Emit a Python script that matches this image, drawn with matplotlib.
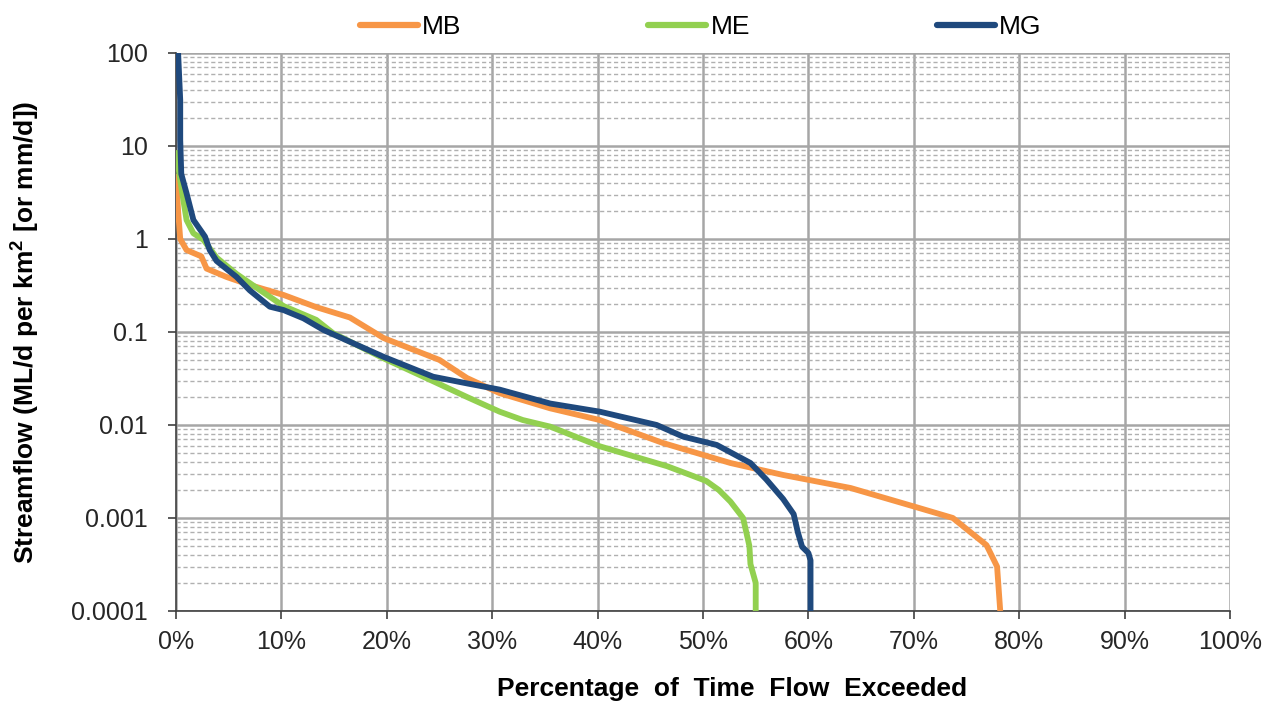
import matplotlib.pyplot as plt
from matplotlib.ticker import FixedLocator, NullFormatter

plt.rcParams['font.family'] = ['Liberation Sans', 'DejaVu Sans']

# flow duration curves: percentage of time exceeded vs streamflow
mb_pct = [0, 0.2, 0.4, 1.0, 2.4, 2.9, 4.8, 7.0, 10.2, 13.3, 16.5, 19.7, 25.0, 27.6,
          30.7, 35.5, 40.2, 46.2, 52.6, 57.6, 64.0, 70.3, 73.7, 76.9, 77.9, 78.2]
mb_flow = [5.0, 2.0, 1.0, 0.76, 0.65, 0.48, 0.39, 0.32, 0.25, 0.185, 0.143, 0.086, 0.05, 0.032,
           0.022, 0.0151, 0.0113, 0.0064, 0.0039, 0.0029, 0.0021, 0.0013, 0.001, 0.00051, 0.0003, 0.0001]

me_pct = [0, 0.4, 0.7, 1.0, 1.65, 2.6, 3.85, 5.75, 8.0, 10.2, 13.3, 14.9, 19.7, 24.4,
          27.6, 30.7, 32.9, 35.5, 40.2, 46.6, 48.8, 50.3, 51.5, 52.6, 53.8, 54.4, 54.5,
          55.0, 55.0]
me_flow = [9.0, 4.3, 2.6, 1.6, 1.15, 0.98, 0.63, 0.42, 0.28, 0.19, 0.135, 0.097, 0.052, 0.0295,
           0.020, 0.0139, 0.0113, 0.0096, 0.0059, 0.0036, 0.0029, 0.0025, 0.002, 0.0015, 0.001,
           0.0005, 0.00032, 0.0002, 0.0001]

mg_pct = [0.2, 0.4, 0.4, 0.5, 1.0, 1.65, 2.75, 3.2, 3.85, 5.75, 7.0, 8.9, 10.2, 12.1, 14.0,
          19.7, 24.4, 27.6, 30.7, 35.5, 40.2, 45.6, 48.1, 51.3, 54.5, 56.0, 57.6, 58.6, 59.0,
          59.4, 60.0, 60.2, 60.2]
mg_flow = [100, 31, 11.6, 5.0, 3.1, 1.6, 1.06, 0.76, 0.58, 0.39, 0.28, 0.187, 0.172, 0.14, 0.105,
           0.054, 0.033, 0.028, 0.024, 0.017, 0.0139, 0.01, 0.0075, 0.0061, 0.0039, 0.0026, 0.0016,
           0.0011, 0.0007, 0.00049, 0.00042, 0.00035, 0.0001]

x_ticks = [0, 10, 20, 30, 40, 50, 60, 70, 80, 90, 100]
y_ticks = [0.0001, 0.001, 0.01, 0.1, 1, 10, 100]
y_labels = ['0.0001', '0.001', '0.01', '0.1', '1', '10', '100']

fig = plt.figure(figsize=(12.81, 7.06), dpi=100)
ax = fig.add_axes([0.1374, 0.1346, 0.8228, 0.7904])

ax.plot(mb_pct, mb_flow, color='#F79646', lw=4.2, label='MB', solid_capstyle='butt', zorder=3)
ax.plot(me_pct, me_flow, color='#92D050', lw=4.2, label='ME', solid_capstyle='butt', zorder=4)
ax.plot(mg_pct, mg_flow, color='#1F497D', lw=4.2, label='MG', solid_capstyle='butt', zorder=5)

ax.set_yscale('log')
ax.set_ylim(0.0001, 100)
ax.set_xlim(0, 100)
ax.set_xticks(x_ticks)
ax.set_xticklabels([f'{t}%' for t in x_ticks])
ax.yaxis.set_major_locator(FixedLocator(y_ticks))
ax.set_yticklabels(y_labels)
minors = [m * 10.0 ** e for e in range(-4, 2) for m in range(2, 10)]
ax.yaxis.set_minor_locator(FixedLocator(minors))
ax.yaxis.set_minor_formatter(NullFormatter())

ax.grid(True, which='major', axis='both', color='#A6A6A6', lw=1.8)
ax.grid(True, which='minor', axis='y', color='#B0B0B0', lw=1.0, ls=(0, (3, 2)))
ax.set_axisbelow(True)

for s in ['top', 'right']:
    ax.spines[s].set_visible(False)
for s in ['left', 'bottom']:
    ax.spines[s].set_color('#404040')
    ax.spines[s].set_linewidth(1.2)

ax.tick_params(axis='both', which='major', labelsize=18, length=6, width=1.2,
               color='#404040', labelcolor='#262626')
ax.tick_params(axis='y', which='minor', length=0)
ax.tick_params(axis='x', pad=8)
ax.tick_params(axis='y', pad=14)

ax.set_xlabel('Percentage  of  Time  Flow  Exceeded', fontsize=19, fontweight='bold')
ax.xaxis.set_label_coords(0.528, -0.118)
ax.set_ylabel('Streamflow (ML/d per km$^\\mathregular{2}$ [or mm/d])', fontsize=19,
              fontweight='bold')
ax.yaxis.set_label_coords(-0.128, 0.5)

leg = fig.legend(loc='upper center', bbox_to_anchor=(0.547, 1.012), ncol=3, frameon=False,
                 fontsize=19, handlelength=2.2, handletextpad=0.15, columnspacing=7.1)
for h in leg.get_lines():
    h.set_linewidth(4.5)
    h.set_solid_capstyle('round')

fig.savefig('out.png', dpi=100)
